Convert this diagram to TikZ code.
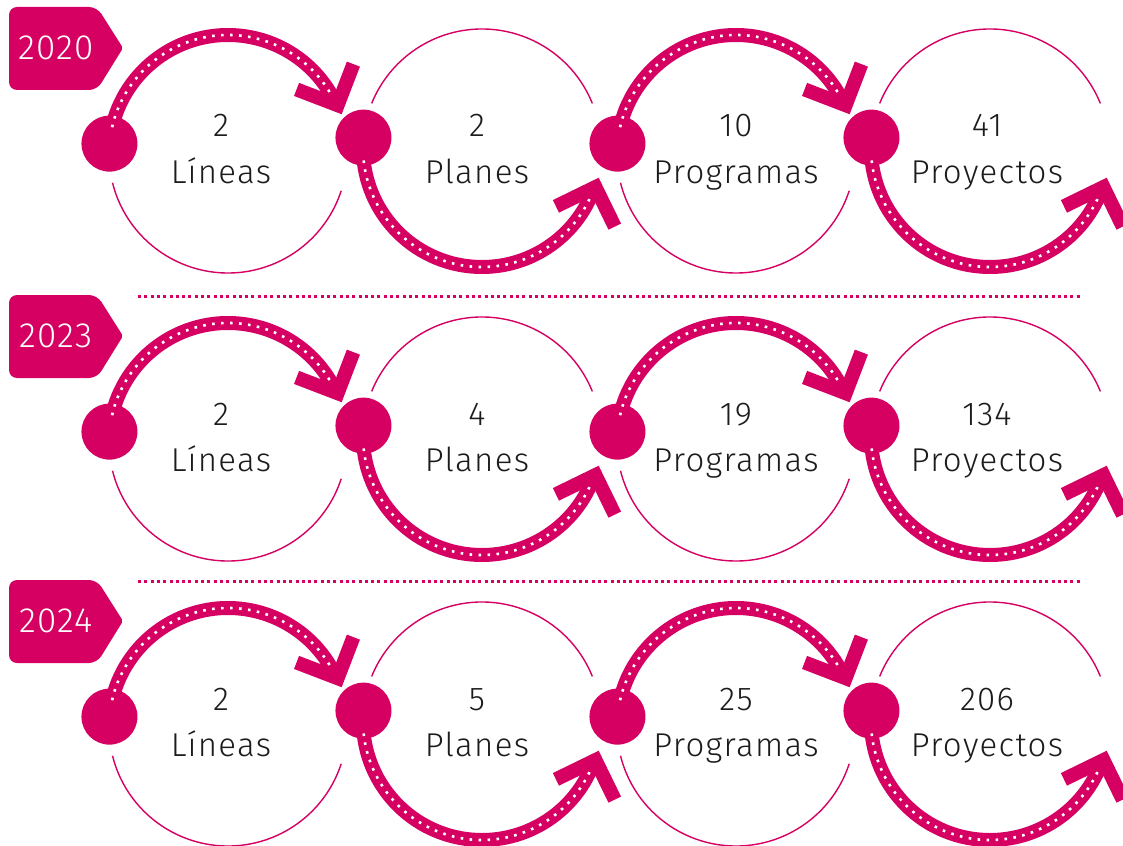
\documentclass[tikz,border=0pt]{standalone}
\usepackage{fontspec}
\setmainfont{Fira Sans Light}[LetterSpace=4]
\definecolor{mag}{RGB}{213,0,98}
\definecolor{txt}{RGB}{28,28,28}
\tikzset{
  thincirc/.style={draw=mag, line width=1.4pt},
  band/.style={draw=mag, line width=14pt},
  holes/.style={draw=white, line width=2.6pt, dash pattern=on 2.6pt off 6.4pt},
  head/.style={draw=mag, line width=14pt, line join=miter, miter limit=10},
  knob/.style={circle, fill=mag, minimum size=56pt, inner sep=0pt},
  numtxt/.style={anchor=base, inner sep=0pt, text=txt, font=\fontsize{33}{33}\selectfont},
  tagtxt/.style={inner sep=0pt, text=white, font=\fontsize{35}{35}\selectfont},
  tagshape/.style={fill=mag},
  sepline/.style={draw=mag, line width=3pt, dash pattern=on 3pt off 3.3pt}
}
% top unit: #1 name, #2 cx, #3 number, #4 label, #5 text dx
\newcommand\topunit[5]{%
\begin{scope}[shift={(#2,-154)}]
  \node[knob] (#1k) at (175:119) {};
  \draw[thincirc] (194:119) arc[start angle=194, end angle=342, radius=119];
  \draw[band] (#1k.center) arc[start angle=175, end angle=24, radius=119];
  \draw[holes] (167:119) arc[start angle=167, end angle=27, radius=119];
  \draw[head] (24:120) ++(159:44) -- (24:120) -- ++(69:44);
  \node[numtxt] (#1n) at (#5,17) {#3};
  \node[numtxt] (#1l) at (#5,-29) {#4};
\end{scope}}
% bottom unit
\newcommand\botunit[5]{%
\begin{scope}[shift={(#2,-148)}]
  \node[knob] (#1k) at (175:119) {};
  \draw[thincirc] (22:119) arc[start angle=22, end angle=158, radius=119];
  \draw[band] (#1k.center) arc[start angle=175, end angle=341, radius=119];
  \draw[holes] (186:119) arc[start angle=186, end angle=338, radius=119];
  \draw[head] (341:120) ++(206:44) -- (341:120) -- ++(296:44);
  \node[numtxt] (#1n) at (#5,11) {#3};
  \node[numtxt] (#1l) at (#5,-35) {#4};
\end{scope}}
% row: #1 prefix, #2 dy, #3 year, #4..#7 numbers
\newcommand\drawrow[7]{%
\begin{scope}[yshift=-#2pt]
  \path[tagshape] (9,-48) [rounded corners=8pt] -- (9,-7) -- (97,-7)
     [rounded corners=2pt] -- (123,-48) [rounded corners=8pt] -- (97,-90) -- (9,-90) -- cycle;
  \node[tagtxt] (#1y) at (56,-48) {#3};
  \topunit{#1a}{228}{#4}{Líneas}{-7}
  \botunit{#1b}{482}{#5}{Planes}{-5}
  \topunit{#1c}{736}{#6}{Programas}{0}
  \botunit{#1d}{990}{#7}{Proyectos}{-3}
\end{scope}}
\begin{document}
\begin{tikzpicture}[x=1pt, y=1pt]
  \useasboundingbox (0,0) rectangle (1123,-845);
  \clip (0,0) rectangle (1123,-845);
  \fill[white] (0,0) rectangle (1123,-845);
  \drawrow{r}{0}{2020}{2}{2}{10}{41}
  \drawrow{s}{288}{2023}{2}{4}{19}{134}
  \drawrow{t}{573}{2024}{2}{5}{25}{206}
  \coordinate (sepAl) at (138,-296);
  \coordinate (sepAr) at (1082,-296);
  \coordinate (sepBl) at (138,-581);
  \coordinate (sepBr) at (1082,-581);
  \draw[sepline] (sepAl) -- (sepAr);
  \draw[sepline] (sepBl) -- (sepBr);
\end{tikzpicture}
\end{document}
